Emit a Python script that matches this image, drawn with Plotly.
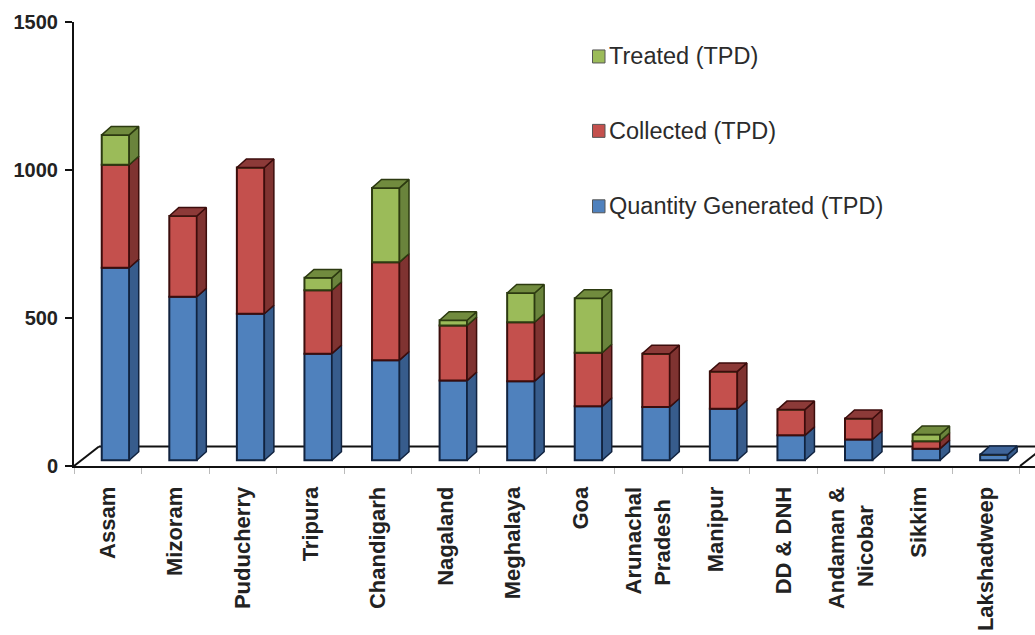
import plotly.graph_objects as go

NB = "\u00a0"
states = ["Assam", "Mizoram", "Puducherry", "Tripura", "Chandigarh", "Nagaland", "Meghalaya",
          "Goa", "Arunachal<br>Pradesh" + NB * 2, "Manipur", "DD &amp; DNH",
          "Andaman &amp;<br>Nicobar" + NB * 3, "Sikkim", "Lakshadweep"]
generated = [650, 552, 495, 360, 338, 269, 267, 182, 180, 174, 84, 70, 39, 19]
collected = [348, 273, 494, 214, 331, 186, 199, 181, 180, 126, 87, 71, 25, 0]
treated = [101, 0, 0, 42, 251, 18, 99, 184, 0, 0, 0, 0, 23, 0]
y_ticks = [0, 500, 1000, 1500]

series = [
    ("Quantity Generated (TPD)", generated, "#4f81bd", "#375c8c", "#3f659a", "#11233f", 206.5),
    ("Collected (TPD)", collected, "#c4504d", "#7f3331", "#8c3a38", "#3c0d0c", 131),
    ("Treated (TPD)", treated, "#9bbb59", "#6a843c", "#718b3e", "#2c3a10", 56.5),
]

# Pixel geometry of the plot frame and pseudo-3D projection
W, H = 1035, 635
LEFT, FLOOR_PX, TOP_PX = 74, 466.5, 22
CAT_PX = 67.57
PX_PER_UNIT = (FLOOR_PX - TOP_PX) / 1500
X_MAX = (W - LEFT) / CAT_PX
BAR_W = 27.5 / CAT_PX
SHIFT = 7.7 / CAT_PX
DX = 9.5 / CAT_PX
DY = 8.5 / PX_PER_UNIT
LIFT = 5.8 / PX_PER_UNIT
FLOOR_DX = 25 / CAT_PX
FLOOR_DY = 19.5 / PX_PER_UNIT

centers = [i + 0.5 for i in range(len(states))]
bar_x = [c + SHIFT for c in centers]

fig = go.Figure()
running = [LIFT] * len(states)
stack_top = [LIFT] * len(states)
for s in series:
    for i, v in enumerate(s[1]):
        stack_top[i] += v

for name, values, front, side, top, edge, _ in series:
    bases = list(running)
    fig.add_trace(go.Bar(
        x=bar_x, y=values, base=bases, width=BAR_W, name=name, showlegend=False,
        marker=dict(color=front, line=dict(color=edge, width=2)),
    ))
    side_x, side_y, top_x, top_y = [], [], [], []
    for i, v in enumerate(values):
        b = bases[i]
        running[i] = b + v
        if v <= 0:
            continue
        r = bar_x[i] + BAR_W / 2
        l = bar_x[i] - BAR_W / 2
        side_x += [r, r + DX, r + DX, r, r, None]
        side_y += [b, b + DY, b + v + DY, b + v, b, None]
        if abs(b + v - stack_top[i]) < 1e-6:
            top_x += [l, l + DX, r + DX, r, l, None]
            top_y += [b + v, b + v + DY, b + v + DY, b + v, b + v, None]
    for px, py, fill in ((side_x, side_y, side), (top_x, top_y, top)):
        fig.add_trace(go.Scatter(
            x=px, y=py, mode="lines", fill="toself", fillcolor=fill,
            line=dict(color=edge, width=1.5), hoverinfo="skip", showlegend=False,
        ))

# Floor of the 3D box, behind the bars
ink = "#111111"
floor = [
    (0, 0, FLOOR_DX, FLOOR_DY),
    (FLOOR_DX, FLOOR_DY, X_MAX + 1, FLOOR_DY),
    (len(states), 0, len(states) + FLOOR_DX, FLOOR_DY),
]
shapes = [dict(type="line", xref="x", yref="y", x0=a, y0=b, x1=c, y1=d, layer="below",
               line=dict(color=ink, width=2)) for a, b, c, d in floor]

# Hand-placed key: swatch plus label for each series
annotations = []
for name, _, front, _, _, edge, key_y in series:
    shapes.append(dict(type="rect", xref="paper", yref="paper",
                       x0=(592.5 - LEFT) / (W - LEFT), x1=(605 - LEFT) / (W - LEFT),
                       y0=(FLOOR_PX - key_y - 6.5) / (FLOOR_PX - TOP_PX),
                       y1=(FLOOR_PX - key_y + 6.5) / (FLOOR_PX - TOP_PX),
                       fillcolor=front, line=dict(color="#555555", width=1)))
    annotations.append(dict(xref="paper", yref="paper",
                            x=(607 - LEFT) / (W - LEFT),
                            y=(FLOOR_PX - key_y) / (FLOOR_PX - TOP_PX),
                            xanchor="left", yanchor="middle", showarrow=False, text=name,
                            font=dict(family="Liberation Sans", size=23.5, color="#2b2b2b")))

fig.update_layout(
    width=W, height=H, autosize=False, barmode="overlay", showlegend=False,
    margin=dict(l=LEFT, r=0, t=TOP_PX, b=H - FLOOR_PX, pad=0),
    paper_bgcolor="white", plot_bgcolor="white",
    shapes=shapes, annotations=annotations,
    xaxis=dict(
        range=[0, X_MAX], tickmode="array", tickvals=centers, ticktext=states,
        tickangle=-90, ticks="", ticklabelstandoff=10, showgrid=False, zeroline=False,
        showline=True, linecolor=ink, linewidth=2,
        tickfont=dict(family="Liberation Sans", size=22, color="#222222", weight="bold"),
        minor=dict(tickmode="array", tickvals=list(range(len(states) + 1)), ticks="outside",
                   ticklen=6, tickcolor="#bbbbbb", tickwidth=1, showgrid=False),
    ),
    yaxis=dict(
        range=[0, 1500], tickmode="array", tickvals=y_ticks, ticks="outside", ticklen=7,
        tickwidth=2, tickcolor=ink, showgrid=False, zeroline=False,
        showline=True, linecolor=ink, linewidth=2, ticklabelstandoff=3,
        tickfont=dict(family="Liberation Sans", size=20, color="#222222", weight="bold"),
    ),
)

fig.write_html("out.html")
